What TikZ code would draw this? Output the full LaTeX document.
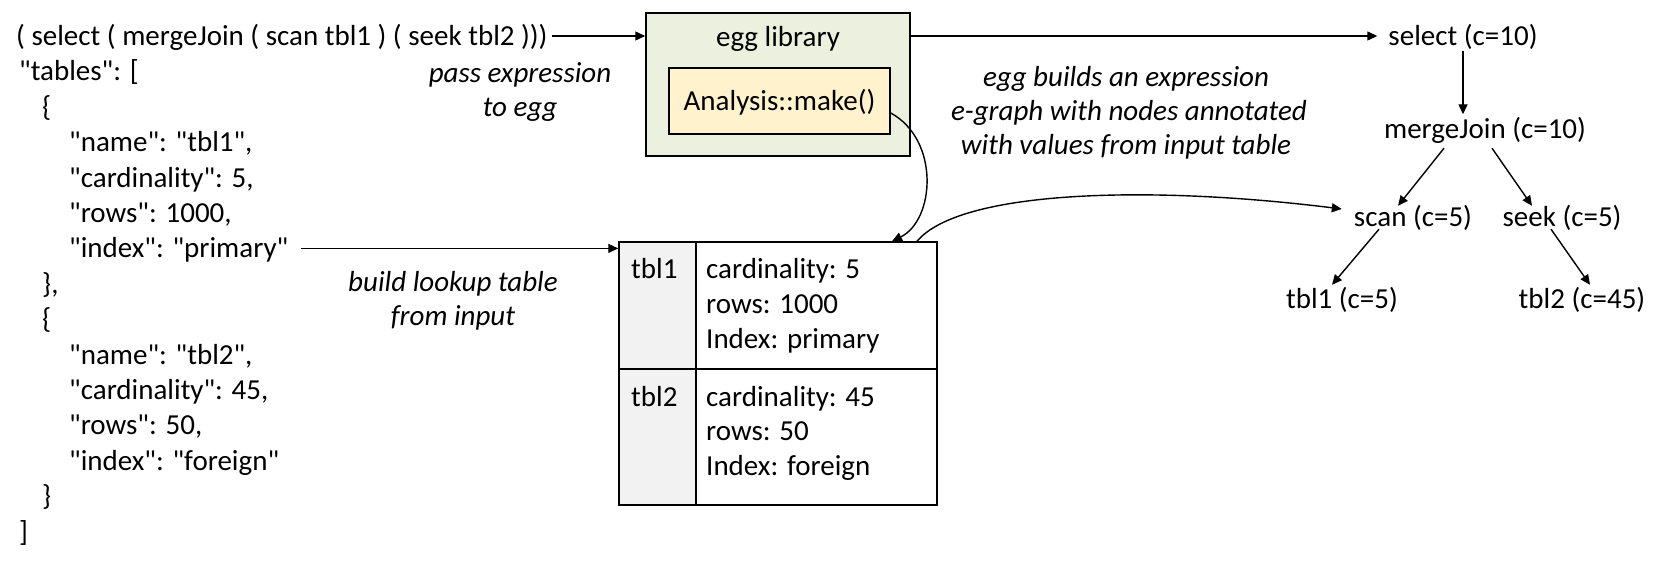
\documentclass[tikz,border=0pt]{standalone}
\usepackage{fontspec}
\setmainfont{Carlito}[Ligatures=TeXOff]
\usetikzlibrary{arrows.meta}
\definecolor{eggfill}{HTML}{EBF1DE}
\definecolor{makefill}{HTML}{FFF2CC}
\definecolor{cellfill}{HTML}{F2F2F2}
\begin{document}
\begin{tikzpicture}[x=1pt,y=-1pt,
  txt/.style={inner sep=0pt, font=\fontsize{29}{35}\selectfont, text height=24pt, text depth=5pt},
  itx/.style={txt, font=\fontsize{29}{35}\selectfont\itshape},
  arr/.style={line width=1.4pt, -{Triangle[length=10pt,width=9pt]}},
  boxline/.style={line width=1.5pt}
]
\useasboundingbox (0,0) rectangle (1657,567);

% JSON / expression text
\node[txt,anchor=west] (j1)  at (16,36)    {( select ( mergeJoin ( scan tbl1 ) ( seek tbl2 )))};
\node[txt,anchor=west] (j2)  at (19,71.4)  {"tables": [};
\node[txt,anchor=west] (j3)  at (42,106.8) {\{};
\node[txt,anchor=west] (j4)  at (69,142.2) {"name": "tbl1",};
\node[txt,anchor=west] (j5)  at (69,177.6) {"cardinality": 5,};
\node[txt,anchor=west] (j6)  at (69,213)   {"rows": 1000,};
\node[txt,anchor=west] (j7)  at (69,248.4) {"index": "primary"};
\node[txt,anchor=west] (j8)  at (42,283.8) {\},};
\node[txt,anchor=west] (j9)  at (42,319.2) {\{};
\node[txt,anchor=west] (j10) at (69,354.6) {"name": "tbl2",};
\node[txt,anchor=west] (j11) at (69,390)   {"cardinality": 45,};
\node[txt,anchor=west] (j12) at (69,425.4) {"rows": 50,};
\node[txt,anchor=west] (j13) at (69,460.8) {"index": "foreign"};
\node[txt,anchor=west] (j14) at (42,496.2) {\}};
\node[txt,anchor=west] (j15) at (19,531.6) {]};

% labels
\node[itx] (l1) at (520,73)  {pass expression};
\node[itx] (l2) at (520,107) {to egg};
\node[itx] (l3) at (453,282) {build lookup table};
\node[itx] (l4) at (453,316) {from input};
\node[itx] (l5) at (1126,77)  {egg builds an expression};
\node[itx] (l6) at (1129,111) {e-graph with nodes annotated};
\node[itx] (l7) at (1126,145) {with values from input table};

% egg library
\node[boxline,draw,fill=eggfill,minimum width=264pt,minimum height=143pt] (egg) at (778,84.5) {};
\node[txt] (egglbl) at (778,37) {egg library};
\node[boxline,draw,fill=makefill,minimum width=221pt,minimum height=66pt,txt] (make) at (779.5,101) {Analysis::make()};

% lookup table
\fill[cellfill] (619,242) rectangle (696,505);
\node[boxline,draw,minimum width=318pt,minimum height=263pt] (tab) at (778,373.5) {};
\draw[boxline] (696,242) -- (696,505);
\draw[boxline] (619,369) -- (937,369);
\node[txt,anchor=west] (c1) at (631,269) {tbl1};
\node[txt,anchor=west] (c2) at (706,269) {cardinality: 5};
\node[txt,anchor=west] (c3) at (706,304) {rows: 1000};
\node[txt,anchor=west] (c4) at (706,339) {Index: primary};
\node[txt,anchor=west] (c5) at (631,397) {tbl2};
\node[txt,anchor=west] (c6) at (706,397) {cardinality: 45};
\node[txt,anchor=west] (c7) at (706,431) {rows: 50};
\node[txt,anchor=west] (c8) at (706,466) {Index: foreign};

% tree
\node[txt] (sel) at (1463,36)  {select (c=10)};
\node[txt] (mj)  at (1485,129) {mergeJoin (c=10)};
\node[txt] (sc)  at (1413,217) {scan (c=5)};
\node[txt] (sk)  at (1562,217) {seek (c=5)};
\node[txt] (t1)  at (1342,299) {tbl1 (c=5)};
\node[txt] (t2)  at (1582,299) {tbl2 (c=45)};

% connectors
\draw[arr] ([xshift=4pt]j1.east) -- (egg.west |- j1);
\draw[arr] (egg.east |- sel) -- ([xshift=-11pt]sel.west);
\draw[arr] ([xshift=12pt]j7.east) -- (tab.west |- j7);
\draw[arr] (sel.south) -- (sel.south |- mj.north);
\draw[arr] ([shift={(-41,4.5)}]mj.south) -- ([shift={(-15,3.5)}]sc.north);
\draw[arr] ([shift={(7,4.5)}]mj.south) -- ([shift={(-30,3.5)}]sk.north);
\draw[arr] ([shift={(-34,-2.5)}]sc.south) -- ([shift={(-10,0.5)}]t1.north);
\draw[arr] ([shift={(-11,-2.5)}]sk.south) -- ([shift={(8,0.5)}]t2.north);
\draw[arr] ([shift={(0,12)}]make.east) .. controls (940,140) and (935,220) .. ([xshift=114pt]tab.north);
\draw[arr] ([xshift=139pt]tab.north) .. controls (960,190) and (1150,185) .. ([shift={(-12,-8)}]sc.west);
\end{tikzpicture}
\end{document}
